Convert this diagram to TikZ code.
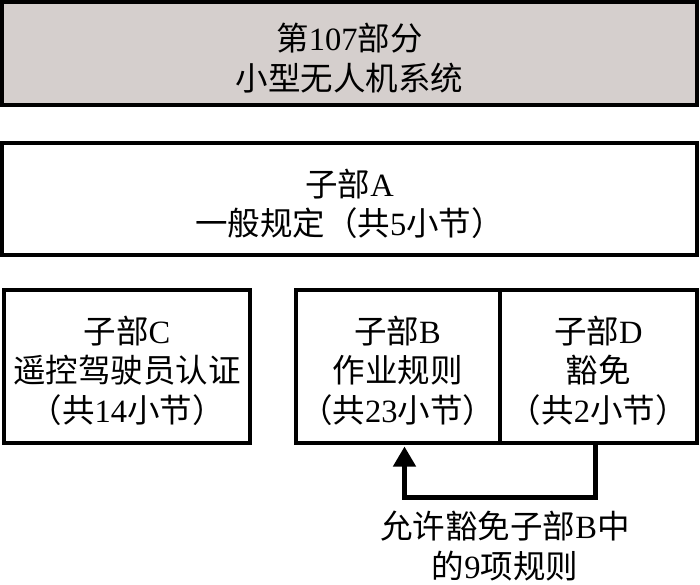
\documentclass[tikz,border=0pt]{standalone}
\usepackage{fontspec}
\setmainfont{Liberation Serif}
\newfontfamily\cjk{Noto Sans CJK SC}
\newcommand\zh[1]{{\cjk #1}}
\newcommand\topstrut{\rule{0pt}{37pt}}
\usetikzlibrary{arrows.meta}
\definecolor{boxgray}{HTML}{D5CFCD}
\begin{document}
\begin{tikzpicture}[x=1pt,y=-1pt,
  box/.style={draw=black, line width=4pt, inner sep=0pt, align=center,
    font=\fontsize{32.5}{39.5}\selectfont},
  lbl/.style={inner sep=0pt, align=center, font=\fontsize{32.5}{39.5}\selectfont},
  conn/.style={draw=black, line width=4.5pt, -{Triangle[length=20pt,width=22pt]}}]
\useasboundingbox (0,0) rectangle (700,585);
\node[box, fill=boxgray, minimum width=695pt, minimum height=103pt] (top) at (349.5,53.5)
  {\topstrut\zh{第}107\zh{部分}\\\zh{小型无人机系统}};
\node[box, minimum width=695pt, minimum height=111pt] (A) at (349.5,199)
  {\topstrut\zh{子部}A\\\zh{一般规定（共}5\zh{小节）}};
\node[box, minimum width=246pt, minimum height=153pt] (C) at (127,366)
  {\topstrut\zh{子部}C\\\zh{遥控驾驶员认证}\\\zh{（共}14\zh{小节）}};
\node[box, minimum width=204pt, minimum height=153pt] (B) at (397.5,366)
  {\topstrut\zh{子部}B\\\zh{作业规则}\\\zh{（共}23\zh{小节）}};
\node[box, minimum width=197.5pt, minimum height=153pt] (D) at (598.25,366)
  {\topstrut\zh{子部}D\\\zh{豁免}\\\zh{（共}2\zh{小节）}};
\coordinate (k1) at (595.5,497.5);
\coordinate (k2) at (404.5,497.5);
\draw[conn, shorten >=2pt] (D.south -| k1) -- (k1) -- (k2) -- (B.south -| k2);
\node[lbl] (note) at (505,546)
  {\zh{允许豁免子部}B\zh{中}\\\zh{的}9\zh{项规则}};
\end{tikzpicture}
\end{document}
